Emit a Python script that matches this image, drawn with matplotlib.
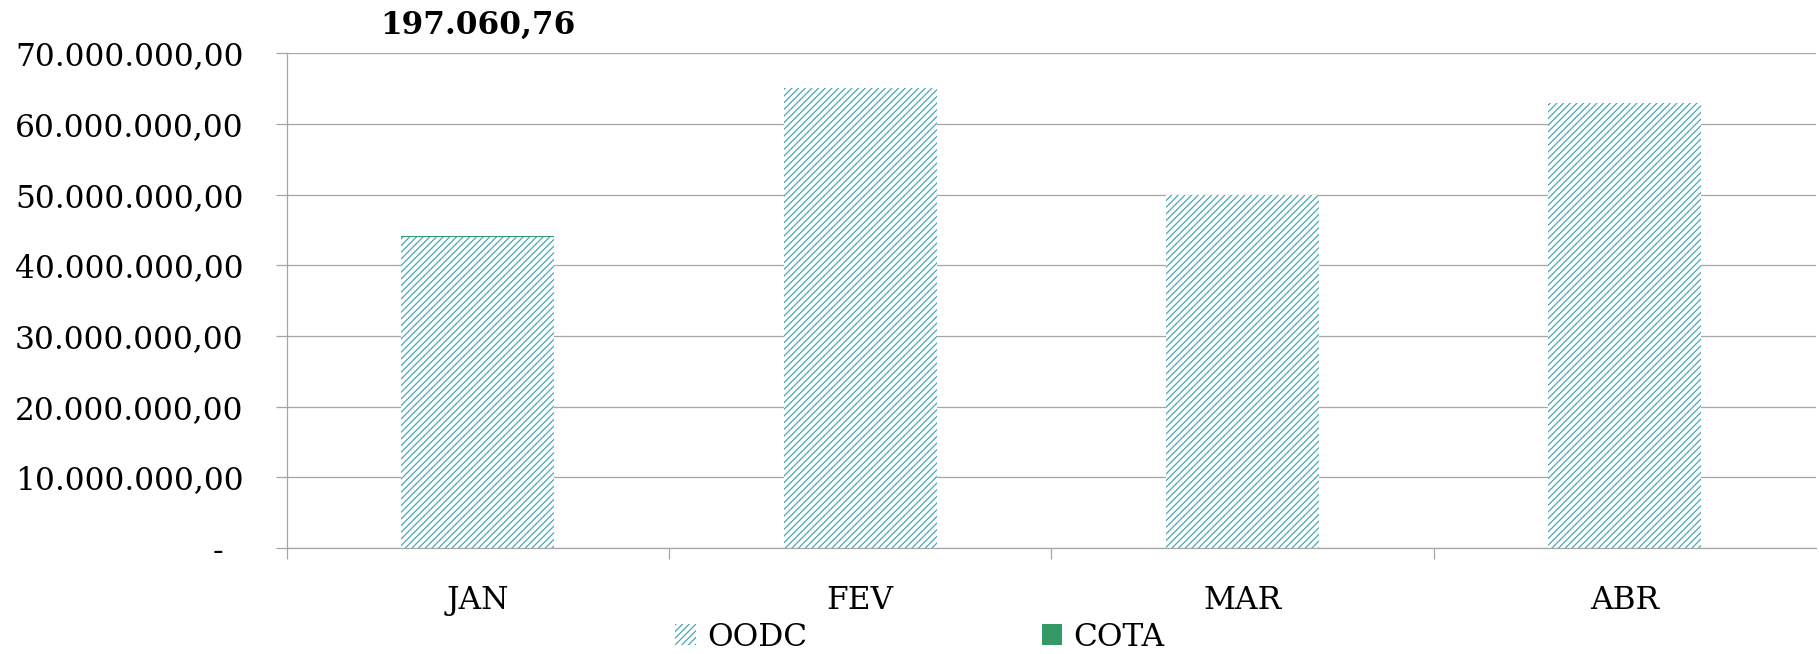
import matplotlib
matplotlib.use("Agg")
import matplotlib.pyplot as plt
import numpy as np

months = ["JAN", "FEV", "MAR", "ABR"]
oodc = [44.0e6, 65.05e6, 49.95e6, 62.93e6]
cota = [197060.76, 0.0, 0.0, 0.0]
y_ticks = [0, 10e6, 20e6, 30e6, 40e6, 50e6, 60e6, 70e6]

HATCH_COLOR = "#4aa8b8"
COTA_COLOR = "#339966"
GRID_COLOR = "#a6a6a6"


def br_number(v):
    # 1234567.8 -> 1.234.567,80 (Brazilian style)
    s = f"{v:,.2f}"
    return s.replace(",", "X").replace(".", ",").replace("X", ".")


def y_label(v):
    if v == 0:
        return "-  "
    return br_number(v)


plt.rcParams["font.family"] = "DejaVu Serif"
plt.rcParams["hatch.linewidth"] = 0.9

fig = plt.figure(figsize=(18.19, 6.54), dpi=100)
ax = fig.add_axes([0.1576, 0.1621, 0.9984 - 0.1576, 0.9185 - 0.1621])

x = np.arange(len(months))
b1 = ax.bar(x, oodc, width=0.4, facecolor="white", edgecolor=HATCH_COLOR,
            hatch="/////", linewidth=0, label="OODC", zorder=2)
b2 = ax.bar(x, cota, width=0.4, bottom=oodc, color=COTA_COLOR,
            linewidth=0, label="COTA", zorder=2)

ax.set_xlim(-0.5, len(months) - 0.5)
ax.set_ylim(0, 70e6)

ax.set_yticks(y_ticks)
ax.set_yticklabels([y_label(v) for v in y_ticks], fontsize=22.5)
ax.set_xticks(x)
ax.set_xticklabels(months, fontsize=22.5)
ax.set_xticks(np.arange(len(months)) - 0.5, minor=True)

ax.tick_params(axis="y", length=8, width=0.9, color=GRID_COLOR, pad=23)
ax.tick_params(axis="x", which="major", length=0, pad=27)
ax.tick_params(axis="x", which="minor", length=8, width=0.9, color=GRID_COLOR)

ax.grid(axis="y", color=GRID_COLOR, linewidth=0.9, zorder=0)
ax.set_axisbelow(True)
for side in ["top", "right"]:
    ax.spines[side].set_visible(False)
for side in ["left", "bottom"]:
    ax.spines[side].set_color(GRID_COLOR)
    ax.spines[side].set_linewidth(0.9)

# data label of the COTA value, shown above the plot area
ax.text(x[0], 1.057, br_number(cota[0]), transform=ax.get_xaxis_transform(),
        ha="center", va="center", fontsize=22.4, fontweight="bold", clip_on=False)

fig.legend(handles=[b1, b2], loc="center", bbox_to_anchor=(920 / 1819, 1 - 637 / 654),
           ncol=2, frameon=False, fontsize=22.5, borderpad=0, handlelength=0.66,
           handleheight=0.66, handletextpad=0.36, columnspacing=7.5)

fig.savefig("out.png", dpi=100, facecolor="white")
plt.close(fig)
